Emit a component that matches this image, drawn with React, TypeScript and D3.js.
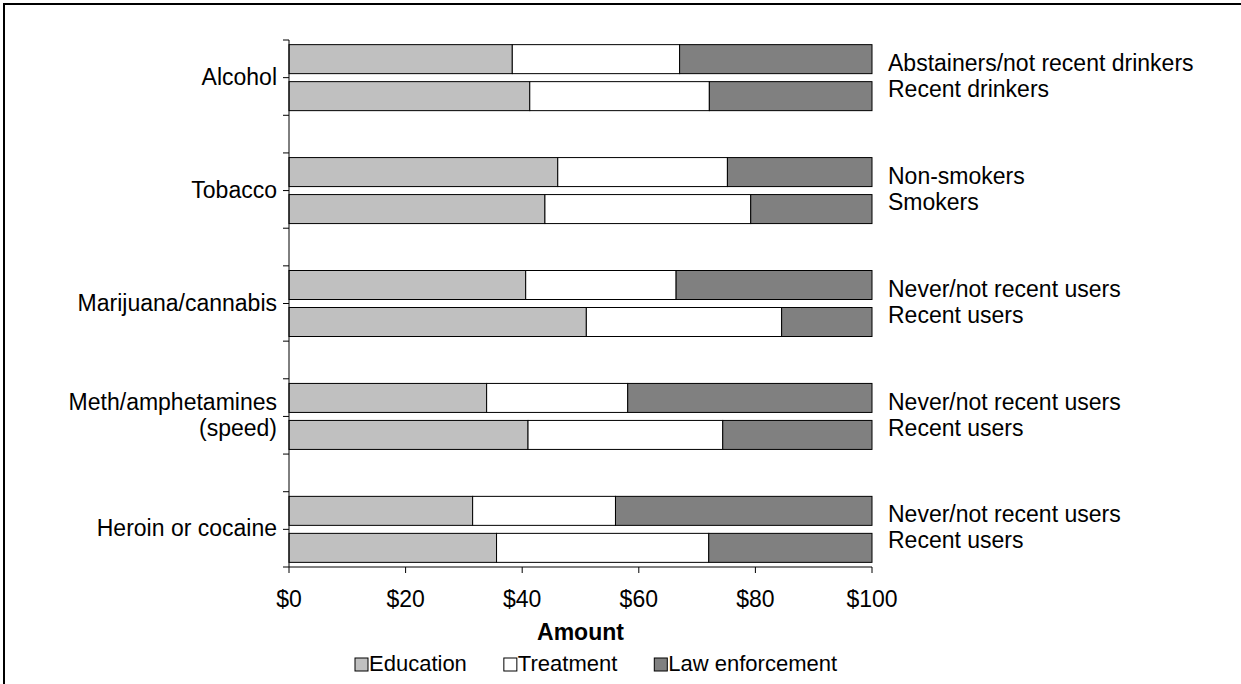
import React from "react";
import * as d3 from "d3";

const categories = ["Alcohol", "Tobacco", "Marijuana/cannabis", "Meth/amphetamines\n(speed)", "Heroin or cocaine"];
const subgroups = [
  ["Abstainers/not recent drinkers", "Recent drinkers"],
  ["Non-smokers", "Smokers"],
  ["Never/not recent users", "Recent users"],
  ["Never/not recent users", "Recent users"],
  ["Never/not recent users", "Recent users"],
];
const seriesNames = ["Education", "Treatment", "Law enforcement"];
// [education, treatment, law enforcement] per bar, top bar then bottom bar
const education = [[38.3, 41.3], [46.1, 43.9], [40.6, 51.0], [33.9, 41.0], [31.5, 35.6]];
const treatment = [[28.7, 30.8], [29.1, 35.3], [25.8, 33.5], [24.2, 33.4], [24.5, 36.4]];
const lawEnforcement = [[33.0, 27.9], [24.8, 20.8], [33.6, 15.5], [41.9, 25.6], [44.0, 28.0]];
const xTicks = [0, 20, 40, 60, 80, 100];
const colors = ["#c0c0c0", "#ffffff", "#808080"];

const FONT = "'Liberation Sans', Arial, sans-serif";
const FS = 23;
const LFS = 22;

function measure(text: string, font: string) {
  const c = document.createElement("canvas").getContext("2d")!;
  c.font = font;
  return c.measureText(text).width;
}

export default function App() {
  const W = 1241, H = 684;
  const x = d3.scaleLinear().domain([0, 100]).range([289, 872]);
  const slots = 14;
  const y = d3.scaleLinear().domain([0, slots]).range([40, 567]);
  const barH = 29;
  const gap = 8;

  const bars: JSX.Element[] = [];
  categories.forEach((cat, gi) => {
    const c = y(1 + gi * 3);
    [0, 1].forEach((bi) => {
      const vals = [education[gi][bi], treatment[gi][bi], lawEnforcement[gi][bi]];
      const top = bi === 0 ? c - gap / 2 - barH : c + gap / 2;
      let acc = 0;
      vals.forEach((v, si) => {
        const x0 = x(acc);
        acc += v;
        const x1 = x(Math.min(acc, 100));
        bars.push(
          <rect key={`${gi}-${bi}-${si}`} x={x0} y={top} width={x1 - x0} height={barH}
            fill={colors[si]} stroke="#000" strokeWidth={1} />
        );
      });
    });
  });

  const legendFont = `${LFS}px ${FONT}`;
  let lx = 355;
  const legendItems = seriesNames.map((name, i) => {
    const item = { name, x: lx, color: colors[i] };
    lx += 14 + measure(name, legendFont) + 37;
    return item;
  });

  return (
    <svg width={W} height={H} style={{ position: "absolute", left: 0, top: 0, background: "#fff" }}
      fontFamily={FONT} fontSize={FS}>
      <rect x={4} y={4} width={W + 20} height={H + 20} fill="#fff" stroke="#000" strokeWidth={2} />
      {bars}
      {/* y axis */}
      <line x1={x(0)} x2={x(0)} y1={y(0)} y2={y(slots)} stroke="#000" />
      {d3.range(slots + 1).map((i) => (
        <line key={`yt${i}`} x1={x(0) - 6} x2={x(0)} y1={y(i)} y2={y(i)} stroke="#000" />
      ))}
      {/* x axis */}
      <line x1={x(0)} x2={x(100)} y1={y(slots)} y2={y(slots)} stroke="#000" />
      {xTicks.map((t) => (
        <g key={`xt${t}`}>
          <line x1={x(t)} x2={x(t)} y1={y(slots)} y2={y(slots) + 6} stroke="#000" />
          <text x={x(t)} y={y(slots) + 34} textAnchor="middle" dominantBaseline="middle">${t}</text>
        </g>
      ))}
      {/* category labels */}
      {categories.map((cat, gi) => {
        const c = y(1 + gi * 3);
        const lines = cat.split("\n");
        const lh = 26;
        return (
          <text key={`cl${gi}`} textAnchor="end" dominantBaseline="middle">
            {lines.map((ln, li) => (
              <tspan key={li} x={x(0) - 12} y={c + 1 + (li - (lines.length - 1) / 2) * lh}>{ln}</tspan>
            ))}
          </text>
        );
      })}
      {/* subgroup labels */}
      {subgroups.map((pair, gi) => {
        const c = y(1 + gi * 3);
        return pair.map((s, bi) => (
          <text key={`sl${gi}-${bi}`} x={888} y={c + (bi === 0 ? -13 : 13)} dominantBaseline="middle">{s}</text>
        ));
      })}
      <text x={(x(0) + x(100)) / 2} y={634} textAnchor="middle" dominantBaseline="middle" fontWeight="bold">Amount</text>
      {legendItems.map((it) => (
        <g key={it.name}>
          <rect x={it.x} y={658} width={13} height={13} fill={it.color} stroke="#000" strokeWidth={1} />
          <text x={it.x + 14} y={665} dominantBaseline="middle" fontSize={LFS}>{it.name}</text>
        </g>
      ))}
    </svg>
  );
}
